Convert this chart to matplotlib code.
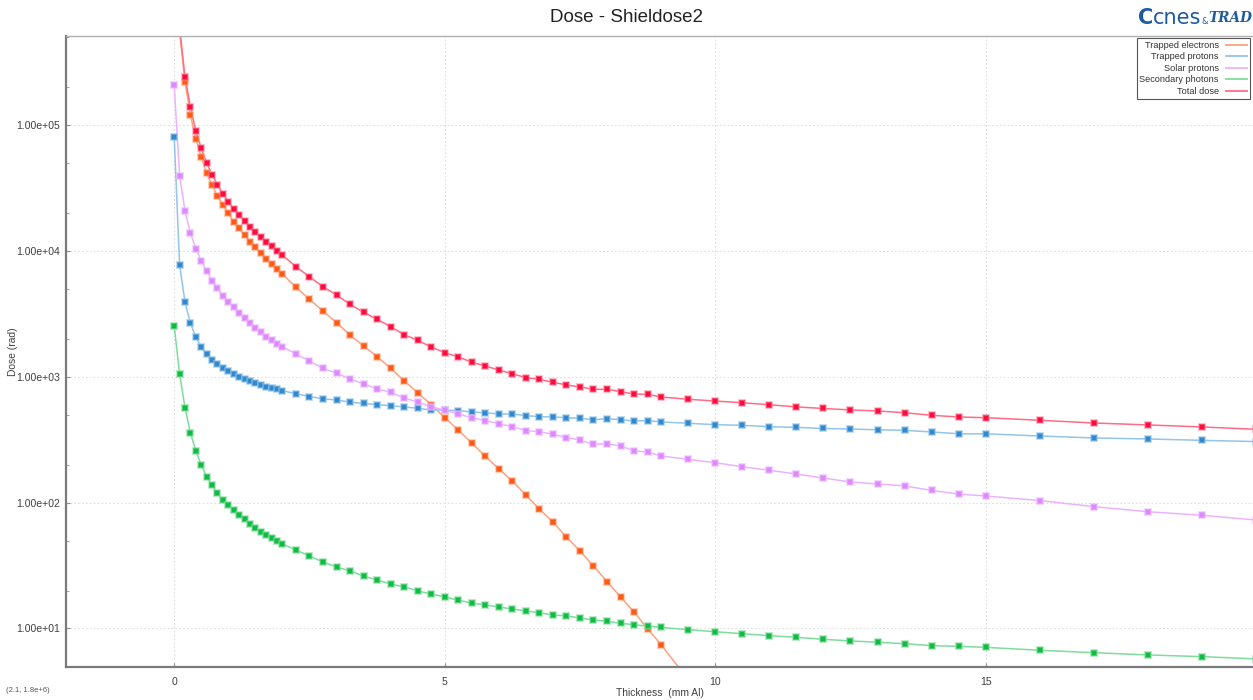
import numpy as np
import matplotlib
matplotlib.use("Agg")
import matplotlib.pyplot as plt
from matplotlib.lines import Line2D
from matplotlib.ticker import FixedLocator, FuncFormatter, NullFormatter

nan = np.nan

thickness = [0, 0.1, 0.2, 0.3, 0.4, 0.5, 0.6, 0.7, 0.8, 0.9, 1.0,
             1.1, 1.2, 1.3, 1.4, 1.5, 1.6, 1.7, 1.8, 1.9, 2.0,
             2.25, 2.5, 2.75, 3.0, 3.25, 3.5, 3.75, 4.0, 4.25, 4.5, 4.75, 5.0,
             5.25, 5.5, 5.75, 6.0, 6.25, 6.5, 6.75, 7.0, 7.25, 7.5, 7.75, 8.0,
             8.25, 8.5, 8.75, 9.0,
             9.5, 10, 10.5, 11, 11.5, 12, 12.5, 13, 13.5, 14, 14.5, 15,
             16, 17, 18, 19, 20]

trapped_electrons = [nan, 5.5e5, 2.21e5, 1.21e5, 7.8e4, 5.6e4, 4.15e4, 3.35e4, 2.74e4, 2.32e4, 2.0e4,
                     1.70e4, 1.52e4, 1.34e4, 1.19e4, 1.07e4, 9.6e3, 8.7e3, 7.85e3, 7.21e3, 6.58e3,
                     5.15e3, 4.14e3, 3.34e3, 2.70e3, 2.15e3, 1.76e3, 1.45e3, 1.17e3, 934, 749, 601, 474,
                     379, 298, 234, 186, 149, 115, 89, 70, 53.4, 41.3, 31.4, 23.6,
                     17.8, 13.5, 9.96, 7.43,
                     3.93, nan, nan, nan, nan, nan, nan, nan, nan, nan, nan, nan,
                     nan, nan, nan, nan, nan]

trapped_protons = [8.07e4, 7.76e3, 3.92e3, 2.67e3, 2.07e3, 1.72e3, 1.52e3, 1.36e3, 1.27e3, 1.18e3, 1.11e3,
                   1.05e3, 1.00e3, 968, 934, 900, 867, 836, 817, 797, 777,
                   736, 697, 671, 655, 630, 615, 603, 590, 577, 563, 545, 545,
                   539, 526, 519, 507, 507, 492, 483, 480, 474, 469, 457, 465,
                   457, 446, 449, 438,
                   428, 417, 412, 402, 397, 389, 385, 380, 376, 365, 353, 353,
                   339, 327, 321, 313, 306]

solar_protons = [2.09e5, 3.97e4, 2.08e4, 1.39e4, 1.045e4, 8.39e3, 6.99e3, 5.82e3, 5.06e3, 4.42e3, 3.96e3,
                 3.57e3, 3.20e3, 2.93e3, 2.67e3, 2.45e3, 2.26e3, 2.09e3, 1.96e3, 1.84e3, 1.74e3,
                 1.52e3, 1.34e3, 1.17e3, 1.07e3, 962, 879, 802, 755, 680, 631, 579, 545,
                 507, 474, 449, 425, 402, 374, 367, 350, 329, 315, 291, 294,
                 282, 259, 252, 235,
                 221, 208, 193, 181, 169, 157, 146, 141, 136, 125, 117, 113,
                 104, 93, 84.7, 79.4, 72.8]

secondary_photons = [2.55e3, 1.05e3, 569, 358, 258, 200, 161, 137, 119, 105, 95.2,
                     87.0, 79.8, 73.8, 67.7, 63.0, 58.9, 55.7, 52.7, 49.7, 47.0,
                     42.1, 37.7, 33.8, 30.8, 28.7, 26.1, 24.3, 22.6, 21.4, 19.9, 18.8, 17.8,
                     16.8, 15.9, 15.4, 14.8, 14.3, 13.8, 13.3, 12.8, 12.6, 12.1, 11.7, 11.4,
                     11.0, 10.7, 10.45, 10.2,
                     9.78, 9.42, 9.08, 8.77, 8.51, 8.20, 7.96, 7.77, 7.57, 7.30, 7.21, 7.08,
                     6.71, 6.42, 6.16, 5.97, 5.73]

total_dose = [nan, 6.0e5, 2.42e5, 1.40e5, 9.0e4, 6.6e4, 5.0e4, 4.05e4, 3.37e4, 2.86e4, 2.47e4,
              2.17e4, 1.94e4, 1.73e4, 1.56e4, 1.42e4, 1.29e4, 1.19e4, 1.09e4, 1.01e4, 9.27e3,
              7.52e3, 6.26e3, 5.21e3, 4.48e3, 3.78e3, 3.26e3, 2.87e3, 2.51e3, 2.17e3, 1.95e3, 1.73e3, 1.56e3,
              1.44e3, 1.31e3, 1.22e3, 1.135e3, 1.06e3, 986, 957, 906, 863, 832, 797, 797,
              763, 731, 727, 692,
              664, 643, 623, 601, 577, 561, 546, 536, 519, 495, 480, 474,
              452, 430, 415, 400, 383]

series_labels = ["Trapped electrons", "Trapped protons", "Solar protons",
                 "Secondary photons", "Total dose"]

x_ticks = [0, 5, 10, 15]
y_ticks = [1e1, 1e2, 1e3, 1e4, 1e5]

plt.rcParams['font.family'] = ['Liberation Sans', 'DejaVu Sans']

W, H = 1253, 700
fig = plt.figure(figsize=(12.53, 7.0), dpi=100)
ax = fig.add_axes([66 / W, 33 / H, 1 - 66 / W, (667 - 36) / H])

styles = [
    # (marker face, line colour, halo)
    ("#ff5a14", "#ffa27c", (1.0, 0.62, 0.48, 0.55)),
    ("#3388cc", "#93c4ea", (0.55, 0.76, 0.92, 0.6)),
    ("#dd88ff", "#ebb3ff", (0.92, 0.72, 1.0, 0.6)),
    ("#10bb44", "#7fdc9c", (0.5, 0.86, 0.6, 0.6)),
    ("#ff0a3c", "#ff6c86", (1.0, 0.5, 0.6, 0.55)),
]
data = [trapped_electrons, trapped_protons, solar_protons, secondary_photons, total_dose]

x = np.array(thickness, dtype=float)
handles = []
for vals, (mfc, lc, halo), lab in zip(data, styles, series_labels):
    y = np.array(vals, dtype=float)
    ax.plot(x, y, color=lc, lw=1.1, zorder=2)
    ax.plot(x, y, ls='none', marker='s', markersize=4.9, markerfacecolor=mfc,
            markeredgecolor=halo, markeredgewidth=1.3, zorder=3)
    handles.append(Line2D([0], [0], color=lc, lw=1.3, label=lab))

ax.set_yscale('log')
ax.set_xlim(-2.0, 19.94)
ax.set_ylim(4.94, 5.13e5)

ax.xaxis.set_major_locator(FixedLocator(x_ticks))
ax.yaxis.set_major_locator(FixedLocator(y_ticks))
minor = [m * 10 ** e for e in range(0, 6) for m in (2, 5)]
ax.yaxis.set_minor_locator(FixedLocator(minor))
ax.yaxis.set_minor_formatter(NullFormatter())
ax.yaxis.set_major_formatter(FuncFormatter(lambda v, p: "%.2e" % v))
ax.xaxis.set_major_formatter(FuncFormatter(lambda v, p: "%d" % v))

ax.grid(True, which='major', ls=(0, (1.5, 2)), color='#dedede', lw=0.8)
ax.set_axisbelow(True)

ax.tick_params(axis='both', which='major', direction='in', length=3, width=0.8,
               colors='#909090', labelcolor='#404040', labelsize=7.6, pad=4)
ax.tick_params(axis='y', which='minor', direction='in', length=2, width=0.6, colors='#909090')
ax.tick_params(axis='x', pad=7)

for s in ('left', 'bottom'):
    ax.spines[s].set_color('#7a7a7a')
    ax.spines[s].set_linewidth(1.6)
ax.spines['top'].set_color('#b0b0b0')
ax.spines['top'].set_linewidth(1.0)
ax.spines['right'].set_visible(False)

ax.set_xlabel("Thickness  (mm Al)", fontsize=7.4, color='#404040')
ax.xaxis.set_label_coords(0.5, -(693 - 667) / (667 - 36), transform=ax.transAxes)
ax.xaxis.label.set_va('center')
ax.set_ylabel("Dose (rad)", fontsize=7.4, color='#404040')
ax.yaxis.set_label_coords(-(66 - 13) / (W - 66), 0.5)
ax.yaxis.label.set_va('center')

leg = ax.legend(handles=handles, loc='upper right',
                bbox_to_anchor=(1 - 3 / (W - 66), 1 - 2 / 631),
                markerfirst=False, fontsize=6.6, frameon=True, fancybox=False,
                edgecolor='#555555', framealpha=1, handlelength=2.3, handletextpad=0.8,
                labelspacing=0.28, borderpad=0.3, borderaxespad=0)
leg.get_frame().set_linewidth(0.8)
for t in leg.get_texts():
    t.set_color('#333333')

fig.text(0.5, 1 - 18 / H, "Dose - Shieldose2", ha='center', va='center',
         fontsize=13.5, color='#222222')

# logo
logo_c = '#1d5aa0'
fig.text(1138 / W, 1 - 18 / H, "C", ha='left', va='center', fontsize=15,
         fontweight='bold', color=logo_c, family='DejaVu Sans')
fig.text(1153 / W, 1 - 18 / H, "cnes", ha='left', va='center', fontsize=15,
         color=logo_c, family='DejaVu Sans')
fig.text(1201 / W, 1 - 21 / H, "&", ha='left', va='center', fontsize=6,
         color=logo_c, family='DejaVu Sans')
fig.text(1208 / W, 1 - 18 / H, "TRAD", ha='left', va='center', fontsize=9.8,
         fontweight='bold', fontstyle='italic', color=logo_c, family='DejaVu Serif')

fig.text(6 / W, 1 - 690 / H, "(2.1, 1.8e+6)", ha='left', va='center',
         fontsize=5.5, color='#555555')

fig.savefig("out.png", dpi=100)
